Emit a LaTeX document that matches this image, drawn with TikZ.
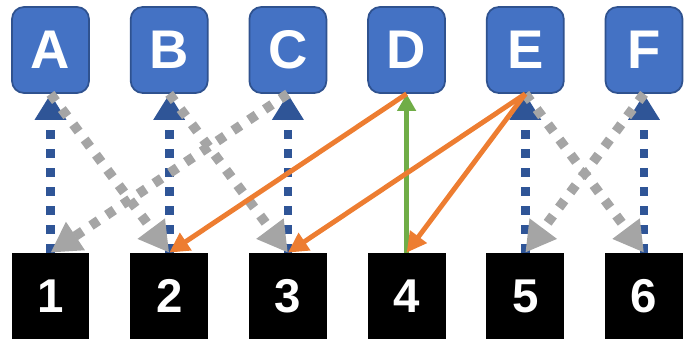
\documentclass[tikz,border=0pt]{standalone}
\usepackage{fontspec}
\setsansfont{Liberation Sans}
\usetikzlibrary{arrows.meta}
\definecolor{boxblue}{RGB}{68, 114, 196}
\definecolor{edgeblue}{RGB}{47, 82, 143}
\definecolor{linkblue}{RGB}{47, 85, 151}
\definecolor{swapgrey}{RGB}{165, 165, 165}
\definecolor{moveorange}{RGB}{237, 125, 49}
\definecolor{keepgreen}{RGB}{112, 173, 71}

\begin{document}
\begin{tikzpicture}[x=0.02cm, y=-0.02cm,
    letterbox/.style={draw=edgeblue, line width=1pt, fill=boxblue, rounded corners=0.24cm,
      minimum width=1.54cm, minimum height=1.72cm, inner sep=0pt, text=white,
      font=\sffamily\bfseries\fontsize{31}{31}\selectfont},
    digitbox/.style={fill=black, minimum width=1.56cm, minimum height=1.72cm, inner sep=0pt,
      text=white, font=\sffamily\bfseries\fontsize{27}{27}\selectfont},
    bluelink/.style={draw=linkblue, line width=5pt, dash pattern=on 0.18cm off 0.2cm,
      -{Triangle[width=0.6cm, length=0.52cm]}},
    greylink/.style={draw=swapgrey, line width=5.5pt, dash pattern=on 0.18cm off 0.2cm,
      -{Triangle[width=0.64cm, length=0.6cm]}},
    orangelink/.style={draw=moveorange, line width=2.8pt,
      -{Triangle[width=0.4cm, length=0.4cm]}},
    greenlink/.style={draw=keepgreen, line width=2.8pt,
      -{Triangle[width=0.36cm, length=0.34cm]}}]
  \useasboundingbox (0,0) rectangle (698,347);

  % ---- TOP ROW ----
  \node[letterbox] (A) at (50.5, 50) {A};
  \node[letterbox] (B) at (169.2, 50) {B};
  \node[letterbox] (C) at (287.9, 50) {C};
  \node[letterbox] (D) at (406.6, 50) {D};
  \node[letterbox] (E) at (525.3, 50) {E};
  \node[letterbox] (F) at (644, 50) {F};

  % ---- BOTTOM ROW ----
  \node[digitbox] (n1) at (50.5, 296) {1};
  \node[digitbox] (n2) at (169.2, 296) {2};
  \node[digitbox] (n3) at (287.9, 296) {3};
  \node[digitbox] (n4) at (406.6, 296) {4};
  \node[digitbox] (n5) at (525.3, 296) {5};
  \node[digitbox] (n6) at (644, 296) {6};

  % ---- BLUE (upward) ----
  \draw[bluelink] (n1.north) -- (A.south);
  \draw[bluelink] (n2.north) -- (B.south);
  \draw[bluelink] (n3.north) -- (C.south);
  \draw[bluelink] (n5.north) -- (E.south);
  \draw[bluelink] (n6.north) -- (F.south);

  % ---- GREY (crossing) ----
  \draw[greylink] (A.south) -- (n2.north);
  \draw[greylink] (B.south) -- (n3.north);
  \draw[greylink] (C.south) -- (n1.north);
  \draw[greylink] (E.south) -- (n6.north);
  \draw[greylink] (F.south) -- (n5.north);

  % ---- GREEN ----
  \draw[greenlink] (n4.north) -- (D.south);

  % ---- ORANGE ----
  \draw[orangelink] (D.south) -- (n2.north);
  \draw[orangelink] (E.south) -- (n3.north);
  \draw[orangelink] (E.south) -- (n4.north);
\end{tikzpicture}
\end{document}
